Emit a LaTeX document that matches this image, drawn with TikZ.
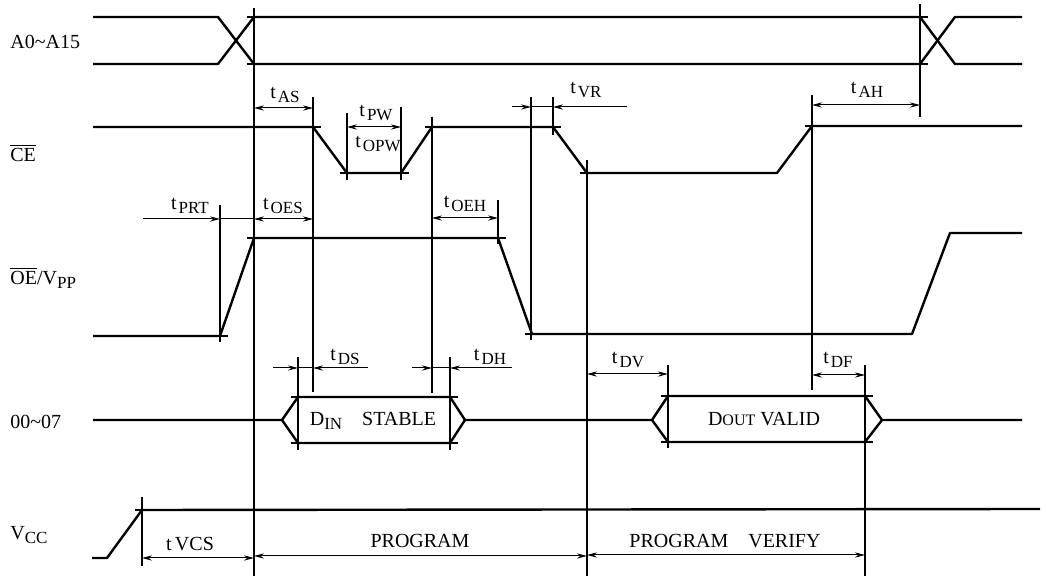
\documentclass[tikz,border=0pt]{standalone}
\usepackage{fontspec}
\setmainfont{Liberation Serif}
\usetikzlibrary{arrows.meta}

\newcommand{\lowsub}[1]{\raisebox{-0.5ex}{\fontsize{8.5}{9}\selectfont #1}}
\newcommand{\tsub}[1]{t\kern1pt\lowsub{#1}}

\begin{document}
\begin{tikzpicture}[x=0.5pt,y=-0.5pt,
  sig/.style={line width=1.2pt, line join=round},
  guide/.style={line width=0.6pt},
  tk/.style={line width=0.6pt},
  dim/.style={line width=0.5pt, {Stealth[length=5pt,width=2.6pt]}-{Stealth[length=5pt,width=2.6pt]}},
  dimin/.style={line width=0.5pt, -{Stealth[length=5pt,width=2.6pt]}},
  lbl/.style={font=\fontsize{10}{11}\selectfont, inner sep=1pt},
  signame/.style={lbl, anchor=west}]
\useasboundingbox (0,0) rectangle (1046,576);
% signal names
\node[signame] (nA) at (8,42) {A0\textasciitilde A15};
\node[signame] (nCE) at (8,153) {$\overline{\mbox{CE}}$};
\node[signame] (nOE) at (8,278) {$\overline{\mbox{OE}}$/V\lowsub{PP}};
\node[signame] (nD) at (8,422) {00\textasciitilde 07};
\node[signame] (nV) at (8,535) {V\lowsub{CC}};
% waveforms
\draw[sig] (93,17) -- (218,17) -- (254,64) -- (920,64) -- (955,17) -- (1022,17);
\draw[sig] (93,64) -- (218,64) -- (254,17) -- (920,17) -- (955,64) -- (1022,64);
\draw[sig] (93,127) -- (313,127) -- (347,173) -- (401,173) -- (432,127) -- (553,127)
  -- (587,173) -- (777,173) -- (812,126) -- (1022,126);
\draw[sig] (93,336) -- (220,336) -- (254,238) -- (498,238) -- (532,334) -- (912,334)
  -- (950,233) -- (1022,233);
\draw[sig] (93,420) -- (282,420) -- (298,397) -- (450,397) -- (465,420) -- (652,420)
  -- (668,396) -- (865,396) -- (882,420) -- (1022,420);
\draw[sig] (282,420) -- (298,443) -- (450,443) -- (465,420);
\draw[sig] (652,420) -- (668,442) -- (865,442) -- (882,420);
\draw[sig] (92,558) -- (107,558) -- (142,510) -- (1040,509);
% corner ticks
\foreach \px/\py in {254/17,254/64,920/17,920/64,313/127,347/173,401/173,432/127,
  553/127,587/173,812/126,220/336,254/238,498/238,532/334,298/397,298/443,450/397,
  450/443,668/396,668/442,865/396,865/442,142/510}
  \draw[tk] ({\px-7},\py) -- ({\px+8},\py);
% guide lines
\draw[guide] (254,8) -- (254,576);
\draw[guide] (920,4) -- (920,117);
\draw[guide] (313,97) -- (313,392);
\draw[guide] (347,113) -- (347,180);
\draw[guide] (401,107) -- (401,180);
\draw[guide] (432,117) -- (432,393);
\draw[guide] (531,97) -- (531,340);
\draw[guide] (553,97) -- (553,135);
\draw[guide] (587,160) -- (587,576);
\draw[guide] (812,95) -- (812,390);
\draw[guide] (220,205) -- (220,342);
\draw[guide] (498,200) -- (498,244);
\draw[guide] (298,357) -- (298,450);
\draw[guide] (450,357) -- (450,450);
\draw[guide] (668,365) -- (668,448);
\draw[guide] (865,365) -- (865,576);
\draw[guide] (142,497) -- (142,566);
% timing arrows
\draw[dim] (254,108) -- (313,108);
\node[lbl] (tas) at (285,95) {\tsub{AS}};
\draw[dim] (347,127) -- (401,127);
\node[lbl] (tpw) at (376,113) {\tsub{PW}};
\node[lbl] (topw) at (378,144) {\tsub{OPW}};
\draw[dimin] (512,107) -- (531,107);
\draw[guide, line width=0.5pt] (531,107) -- (553,107);
\draw[dimin] (627,107) -- (553,107);
\node[lbl] (tvr) at (586,90) {\tsub{VR}};
\draw[dim] (812,105) -- (920,105);
\node[lbl] (tah) at (867,90) {\tsub{AH}};
\draw[dimin] (143,219) -- (220,219);
\draw[guide, line width=0.5pt] (220,219) -- (254,219);
\draw[dim] (254,219) -- (313,219);
\node[lbl] (tprt) at (190,206) {\tsub{PRT}};
\node[lbl] (toes) at (283,206) {\tsub{OES}};
\draw[dim] (432,218) -- (498,218);
\node[lbl] (toeh) at (465,204) {\tsub{OEH}};
\draw[dimin] (273,368) -- (298,368);
\draw[guide, line width=0.5pt] (298,368) -- (313,368);
\draw[dimin] (368,368) -- (313,368);
\node[lbl] (tds) at (345,357) {\tsub{DS}};
\draw[dimin] (412,368) -- (432,368);
\draw[guide, line width=0.5pt] (432,368) -- (450,368);
\draw[dimin] (512,368) -- (450,368);
\node[lbl] (tdh) at (490,357) {\tsub{DH}};
\draw[dim] (587,374) -- (668,374);
\node[lbl] (tdv) at (628,360) {\tsub{DV}};
\draw[dim] (812,375) -- (865,375);
\node[lbl] (tdf) at (838,360) {\tsub{DF}};
\draw[dim] (142,558) -- (254,558);
\node[lbl] (tvcs) at (190,544) {t\,VCS};
\draw[dim] (254,556) -- (587,556);
\node[lbl] (prog) at (420,541) {PROGRAM};
\draw[dim] (587,555) -- (865,555);
\node[lbl] (verify) at (725,541) {PROGRAM\quad VERIFY};
% data labels
\node[lbl] (din) at (373,421) {D\lowsub{IN}\quad STABLE};
\node[lbl] (dout) at (764,419) {D{\fontsize{8}{9}\selectfont OUT} VALID};
\end{tikzpicture}
\end{document}
